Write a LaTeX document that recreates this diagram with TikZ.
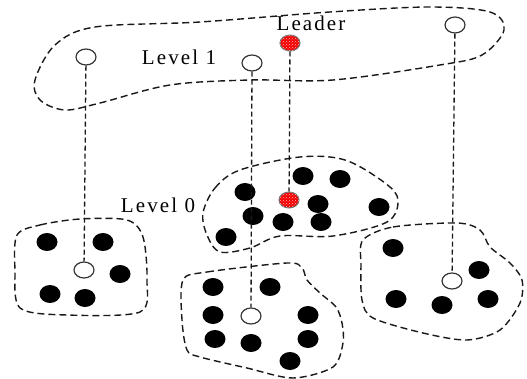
\documentclass[tikz,border=0pt]{standalone}
\usepackage{fontspec}
\setmainfont{Liberation Serif}[LetterSpace=10]
\usetikzlibrary{shapes.geometric,patterns}
\begin{document}
\begin{tikzpicture}[x=1pt,y=-1pt,
  blob/.style={draw=black!90,line width=1.4pt,dash pattern=on 7pt off 4pt},
  link/.style={draw=black!90,line width=1.3pt,dash pattern=on 5pt off 3pt},
  member/.style={ellipse,fill=black,minimum width=21pt,minimum height=18pt,inner sep=0pt},
  head/.style={ellipse,draw=black!80,line width=1.2pt,fill=white,minimum width=20pt,minimum height=16pt,inner sep=0pt},
  leaderdot/.style={ellipse,draw=black!55,line width=1pt,fill=red!95!black,
    postaction={pattern=crosshatch dots,pattern color=white!70!red},
    minimum width=20pt,minimum height=16pt,inner sep=0pt},
  lbl/.style={font=\fontsize{21}{24}\selectfont,inner sep=0pt}]
\useasboundingbox (0,0) rectangle (527,379);

% cluster outlines
\draw[blob] plot[smooth cycle,tension=0.55] coordinates {
  (35,80) (55,45) (95,27) (200,22) (330,12) (430,7) (490,12) (504,30)
  (482,55) (440,65) (333,80) (250,80) (170,85) (100,103) (65,110) (40,100)};
\draw[blob] plot[smooth cycle,tension=0.55] coordinates {
  (203,213) (215,188) (240,170) (300,157) (345,160) (385,183) (398,200)
  (387,222) (333,236) (280,236) (250,248) (220,252) (207,235)};
\draw[blob] plot[smooth cycle,tension=0.5] coordinates {
  (17,235) (40,225) (80,219) (127,220) (143,237) (147,280) (140,312)
  (67,315) (20,308) (15,270)};
\draw[blob] plot[smooth cycle,tension=0.5] coordinates {
  (183,280) (207,272) (287,263) (302,268) (307,280) (320,293) (336,307)
  (342,323) (343,343) (333,367) (293,378) (247,368) (200,357) (187,350) (182,320)};
\draw[blob] plot[smooth cycle,tension=0.5] coordinates {
  (363,240) (393,227) (457,223) (480,230) (490,247) (510,263) (522,280)
  (520,303) (500,330) (467,340) (423,333) (373,318) (362,300) (361,265)};

% level 1 heads
\node[head] (t1) at (86,57) {};
\node[head] (t2) at (252,63) {};
\node[leaderdot] (t3) at (290,43) {};
\node[head] (t4) at (455,25) {};

% level 0 heads
\node[head] (b1) at (84,270) {};
\node[head] (b2) at (251,316) {};
\node[leaderdot] (b3) at (289,200) {};
\node[head] (b4) at (452,281) {};

% left cluster members
\node[member] (l1) at (47,242) {};
\node[member] (l2) at (103,242) {};
\node[member] (l3) at (120,274) {};
\node[member] (l4) at (50,294) {};
\node[member] (l5) at (85,298) {};

% upper middle cluster members
\node[member] (m1) at (245,192) {};
\node[member] (m2) at (303,176) {};
\node[member] (m3) at (340,179) {};
\node[member] (m4) at (318,204) {};
\node[member] (m5) at (379,207) {};
\node[member] (m6) at (253,216) {};
\node[member] (m7) at (283,222) {};
\node[member] (m8) at (321,222) {};
\node[member] (m9) at (226,237) {};

% lower middle cluster members
\node[member] (c1) at (213,287) {};
\node[member] (c2) at (270,287) {};
\node[member] (c3) at (213,315) {};
\node[member] (c4) at (308,315) {};
\node[member] (c5) at (215,339) {};
\node[member] (c6) at (251,343) {};
\node[member] (c7) at (308,339) {};
\node[member] (c8) at (290,361) {};

% right cluster members
\node[member] (r1) at (393,248) {};
\node[member] (r2) at (479,270) {};
\node[member] (r3) at (396,299) {};
\node[member] (r4) at (442,305) {};
\node[member] (r5) at (488,299) {};

% vertical links between levels
\draw[link] (t1) -- (b1);
\draw[link] (t2) -- (b2);
\draw[link] (t3) -- (b3);
\draw[link] (t4) -- (b4);

% labels
\node[lbl] (leader) at (311,23) {Leader};
\node[lbl] (lv1) at (179,57) {Level 1};
\node[lbl] (lv0) at (158,205) {Level 0};
\end{tikzpicture}
\end{document}
